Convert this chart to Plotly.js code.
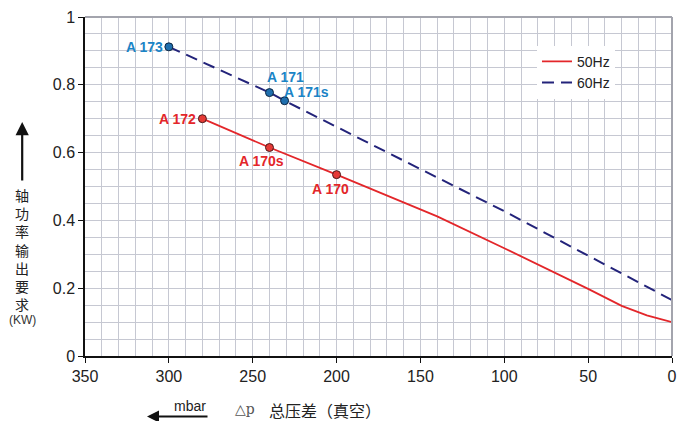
<!DOCTYPE html>
<html>
<head>
<meta charset="utf-8">
<script src="https://cdn.plot.ly/plotly-3.0.1.min.js"></script>
<style>html,body{margin:0;padding:0;background:#fff;}#chart{width:680px;height:421px;}</style>
</head>
<body>
<div id="chart"></div>
<script>
// ---- data ----
const hz50X = [280, 240, 200, 160, 140, 100, 70, 50, 30, 15, 0];
const hz50Y = [0.700, 0.615, 0.535, 0.452, 0.412, 0.318, 0.247, 0.198, 0.148, 0.120, 0.100];
const hz60X = [300, 240, 231, 100, 0];
const hz60Y = [0.912, 0.777, 0.753, 0.427, 0.165];

const redModels = ["A 172", "A 170s", "A 170"];
const redX = [280, 240, 200];
const redY = [0.700, 0.615, 0.535];
const blueModels = ["A 173", "A 171", "A 171s"];
const blueX = [300, 240, 231];
const blueY = [0.912, 0.777, 0.753];

const xTickStep = 50;
const xMinorStep = 10;
const yTickStep = 0.2;
const yMinorStep = 0.05;

const yTitleChars = "轴功率输出要求";
const yUnit = "(KW)";
const xTitle = "总压差（真空）";
const xSymbol = "△p";
const xUnit = "mbar";

// ---- styles ----
const RED = "#e3262a";
const NAVY = "#23237a";
const BLUE = "#1b84c6";
const GRID = "#c6c8d2";

const traces = [
  {x: hz50X, y: hz50Y, mode: "lines", name: "50Hz", line: {color: RED, width: 1.8}, hoverinfo: "skip"},
  {x: hz60X, y: hz60Y, mode: "lines", name: "60Hz", line: {color: NAVY, width: 2, dash: "12px,7px"}, hoverinfo: "skip"},
  {x: redX, y: redY, mode: "markers", showlegend: false, hoverinfo: "skip",
   marker: {size: 8, color: "#e53a36", line: {color: "#4a1a1a", width: 1}}},
  {x: blueX, y: blueY, mode: "markers", showlegend: false, hoverinfo: "skip",
   marker: {size: 8, color: "#1f6fae", line: {color: "#0b2440", width: 1}}}
];

const labelFont = (c) => ({family: "Liberation Sans, Arial, sans-serif", size: 14, color: c, weight: "bold"});
const labelOffsets = {
  "A 173": {xanchor: "right", xshift: -5, yshift: 0},
  "A 171": {xanchor: "center", xshift: 16, yshift: 16},
  "A 171s": {xanchor: "left", xshift: -2, yshift: 9},
  "A 172": {xanchor: "right", xshift: -5, yshift: 0},
  "A 170s": {xanchor: "center", xshift: -8, yshift: -13},
  "A 170": {xanchor: "center", xshift: -6, yshift: -14}
};
const annotations = [];
function addLabels(names, xs, ys, color) {
  names.forEach((n, i) => {
    const o = labelOffsets[n];
    annotations.push({x: xs[i], y: ys[i], xref: "x", yref: "y", text: "<b>" + n + "</b>", showarrow: false,
      xanchor: o.xanchor, yanchor: "middle", xshift: o.xshift, yshift: o.yshift, font: labelFont(color),
      borderpad: 0});
  });
}
addLabels(blueModels, blueX, blueY, BLUE);
addLabels(redModels, redX, redY, RED);

// vertical y title (one char per line)
annotations.push({xref: "paper", yref: "paper", x: -0.107, y: (356 - 249) / 339,
  text: [...yTitleChars].join("<br>"), showarrow: false, xanchor: "center", yanchor: "middle",
  font: {family: "Noto Sans CJK SC", size: 14, color: "#222"}});
annotations.push({xref: "paper", yref: "paper", x: -0.107, y: (356 - 320) / 339, text: yUnit, showarrow: false,
  xanchor: "center", yanchor: "middle", font: {family: "Liberation Sans, Arial, sans-serif", size: 12, color: "#333"}});
// y arrow
annotations.push({xref: "paper", yref: "paper", x: -0.107, y: (356 - 122) / 339, ax: 0, ay: 60, axref: "pixel", ayref: "pixel",
  showarrow: true, arrowhead: 2, arrowsize: 1.2, arrowwidth: 2.2, arrowcolor: "#111", text: ""});
// x unit and arrow
annotations.push({xref: "paper", yref: "paper", x: (190 - 85) / 587, y: (356 - 406) / 339, text: xUnit, showarrow: false,
  xanchor: "center", yanchor: "middle", font: {family: "Liberation Sans, Arial, sans-serif", size: 14, color: "#222"}});
annotations.push({xref: "paper", yref: "paper", x: (147 - 85) / 587, y: (356 - 416.5) / 339, ax: 62, ay: 0,
  showarrow: true, arrowhead: 2, arrowsize: 1.2, arrowwidth: 2, arrowcolor: "#111", text: ""});
annotations.push({xref: "paper", yref: "paper", x: (233 - 85) / 587, y: (356 - 409) / 339, text: xSymbol, showarrow: false,
  xanchor: "left", yanchor: "middle", font: {family: "DejaVu Serif, serif", size: 14, color: "#555"}});
annotations.push({xref: "paper", yref: "paper", x: (267 - 85) / 587, y: (356 - 410) / 339, text: xTitle, showarrow: false,
  xanchor: "left", yanchor: "middle", font: {family: "Noto Sans CJK SC", size: 16, color: "#222"}});

const axisFont = {family: "Liberation Sans, Arial, sans-serif", size: 16, color: "#222"};
const layout = {
  width: 680, height: 421,
  margin: {l: 85, r: 8, t: 17, b: 65},
  paper_bgcolor: "#fff", plot_bgcolor: "#fff",
  showlegend: true,
  legend: {x: 0.77, y: 0.915, xanchor: "left", yanchor: "top", bgcolor: "#fff",
    font: {family: "Liberation Sans, Arial, sans-serif", size: 14, color: "#222"}, tracegroupgap: 0},
  xaxis: {range: [350, 0], dtick: xTickStep, ticks: "outside", ticklen: 5, tickcolor: "#111",
    showline: true, linecolor: "#111", linewidth: 1.5, zeroline: false,
    showgrid: true, gridcolor: GRID,
    minor: {dtick: xMinorStep, showgrid: true, gridcolor: GRID},
    tickfont: axisFont},
  yaxis: {range: [0, 1], dtick: yTickStep, ticks: "outside", ticklen: 5, tickcolor: "#111",
    showline: true, linecolor: "#111", linewidth: 1.5, zeroline: false,
    showgrid: true, gridcolor: GRID,
    minor: {dtick: yMinorStep, showgrid: true, gridcolor: GRID},
    tickfont: axisFont},
  shapes: [
    {type: "line", xref: "paper", yref: "paper", x0: 0, x1: 1, y0: 1, y1: 1, line: {color: "#a3a4ad", width: 2}},
    {type: "line", xref: "paper", yref: "paper", x0: 1, x1: 1, y0: 0, y1: 1, line: {color: "#a3a4ad", width: 2}}
  ],
  annotations: annotations
};

Plotly.newPlot("chart", traces, layout, {displayModeBar: false});
</script>
</body>
</html>
